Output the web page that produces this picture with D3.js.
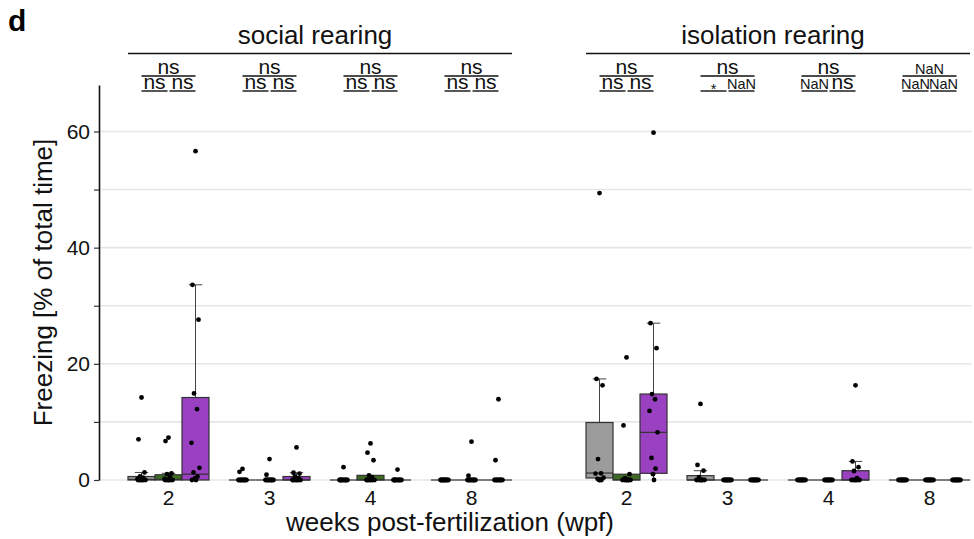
<!DOCTYPE html>
<html>
<head>
<meta charset="utf-8">
<script src="https://cdn.jsdelivr.net/npm/d3@7"></script>
<style>
  html, body { margin: 0; padding: 0; background: #fff; }
  svg { display: block; font-family: "Liberation Sans", Arial, Helvetica, sans-serif; }
</style>
</head>
<body>
<svg id="chart" width="974" height="539"></svg>
<script>
// ---- data -------------------------------------------------------------
const wpf = ["2", "3", "4", "8"];
const rearing = ["social rearing", "isolation rearing"];
const groups = ["g1", "g2", "g3"];
const yTicks = [0, 10, 20, 30, 40, 50, 60];
const yTickLabels = ["0", "", "20", "", "40", "", "60"];

// freezing (% of total time) per fish, [wpf][group]
const socialPoints = [
  [[14.2, 7.0, 1.3, 0.6, 0.4, 0.2, 0, 0, 0, 0, 0, 0],
   [7.3, 6.7, 1.15, 1.0, 0.5, 0.2, 0, 0, 0, 0, 0, 0],
   [56.6, 33.6, 27.6, 14.9, 12.2, 6.4, 2.1, 1.3, 0.6, 0.3, 0, 0]],
  [[1.9, 1.4, 0, 0, 0, 0, 0, 0, 0, 0, 0, 0],
   [3.6, 0.9, 0, 0, 0, 0, 0, 0, 0, 0, 0, 0],
   [5.6, 1.25, 1.1, 0.6, 0.3, 0, 0, 0, 0, 0, 0, 0]],
  [[2.2, 0, 0, 0, 0, 0, 0, 0, 0, 0, 0, 0],
   [6.3, 4.7, 3.4, 0.8, 0.5, 0, 0, 0, 0, 0, 0, 0],
   [1.8, 0, 0, 0, 0, 0, 0, 0, 0, 0, 0, 0]],
  [[0, 0, 0, 0, 0, 0, 0, 0, 0, 0, 0, 0],
   [6.6, 0.75, 0, 0, 0, 0, 0, 0, 0, 0, 0, 0],
   [13.9, 3.4, 0, 0, 0, 0, 0, 0, 0, 0, 0, 0]]
];
const isolationPoints = [
  [[49.4, 17.4, 16.3, 3.6, 1.15, 1.1, 0.4, 0.2, 0, 0, 0],
   [21.1, 9.4, 1.0, 0.3, 0, 0, 0, 0, 0, 0, 0],
   [59.8, 27.0, 22.7, 14.8, 13.9, 11.9, 8.2, 3.8, 1.95, 1.0, 0]],
  [[13.1, 2.6, 1.6, 0.5, 0, 0, 0, 0, 0, 0, 0],
   [0, 0, 0, 0, 0, 0, 0, 0, 0, 0, 0],
   [0, 0, 0, 0, 0, 0, 0, 0, 0, 0, 0]],
  [[0, 0, 0, 0, 0, 0, 0, 0, 0, 0, 0],
   [0, 0, 0, 0, 0, 0, 0, 0, 0, 0, 0],
   [16.3, 3.2, 2.2, 1.55, 0.3, 0, 0, 0, 0, 0, 0]],
  [[0, 0, 0, 0, 0, 0, 0, 0, 0, 0, 0],
   [0, 0, 0, 0, 0, 0, 0, 0, 0, 0, 0],
   [0, 0, 0, 0, 0, 0, 0, 0, 0, 0, 0]]
];

// box summaries [lower whisker, Q1, median, Q3, upper whisker]
const socialBoxes = [
  [[0, 0, 0.1, 0.6, 1.3], [0, 0, 0.1, 0.9, 1.15], [0, 0, 1.0, 14.2, 33.6]],
  [[0, 0, 0, 0, 0], [0, 0, 0, 0, 0], [0, 0, 0, 0.6, 1.25]],
  [[0, 0, 0, 0, 0], [0, 0, 0, 0.8, 0.8], [0, 0, 0, 0, 0]],
  [[0, 0, 0, 0, 0], [0, 0, 0, 0, 0], [0, 0, 0, 0, 0]]
];
const isolationBoxes = [
  [[0, 0.35, 1.2, 9.9, 17.4], [0, 0, 0.05, 1.0, 1.0], [0, 1.15, 8.2, 14.8, 27.0]],
  [[0, 0, 0, 0.75, 1.6], [0, 0, 0, 0, 0], [0, 0, 0, 0, 0]],
  [[0, 0, 0, 0, 0], [0, 0, 0, 0, 0], [0, 0, 0, 1.6, 3.2]],
  [[0, 0, 0, 0, 0], [0, 0, 0, 0, 0], [0, 0, 0, 0, 0]]
];

// pairwise test labels per wpf: [g1 vs g3, g1 vs g2, g2 vs g3]
const socialSig = [["ns", "ns", "ns"], ["ns", "ns", "ns"], ["ns", "ns", "ns"], ["ns", "ns", "ns"]];
const isolationSig = [["ns", "ns", "ns"], ["ns", "*", "NaN"], ["ns", "NaN", "ns"], ["NaN", "NaN", "NaN"]];

// ---- style & layout --------------------------------------------------
const fills = ["#9c9c9c", "#3d6b24", "#9a41c2"];
const font = "'Liberation Sans', Arial, Helvetica, sans-serif";
const panelGap = 4.535;           // slot distance between the two rearing blocks
const plotLeft = 99, plotRight = 972, plotTop = 85, plotBottom = 480;

const svg = d3.select("#chart");

const y = d3.scaleLinear().domain([0, 68]).range([plotBottom, plotTop]);
const x = d3.scaleLinear().domain([0, 3 + panelGap]).range([168.5, 929.5]);
const inner = d3.scaleBand().domain(groups).range([-40.5, 40.5]);
const bw = inner.bandwidth();

const slotOf = (r, i) => (r === 0 ? i : i + panelGap);
const groupX = (r, i, g) => x(slotOf(r, i)) + inner(groups[g]) + bw / 2;

// grid
svg.append("g")
  .selectAll("line")
  .data(yTicks)
  .join("line")
  .attr("x1", plotLeft).attr("x2", plotRight)
  .attr("y1", d => y(d)).attr("y2", d => y(d))
  .attr("stroke", "#e6e6e6").attr("stroke-width", 1.6);

// y axis
const yAxis = d3.axisLeft(y)
  .tickValues(yTicks)
  .tickFormat((d, i) => yTickLabels[i])
  .tickSize(5)
  .tickSizeOuter(0)
  .tickPadding(4);
const yg = svg.append("g").attr("transform", `translate(${plotLeft},0)`).call(yAxis);
yg.select(".domain").attr("stroke", "#111").attr("stroke-width", 1.6);
yg.selectAll(".tick line").attr("stroke", "#333").attr("stroke-width", 1.2);
yg.selectAll(".tick text").attr("font-size", 21).attr("font-family", font).attr("fill", "#111");

// x tick labels
const xTicks = [];
rearing.forEach((r, ri) => wpf.forEach((w, wi) => xTicks.push({ ri, wi, w })));
svg.append("g")
  .selectAll("text")
  .data(xTicks)
  .join("text")
  .attr("x", d => x(slotOf(d.ri, d.wi)))
  .attr("y", 505)
  .attr("text-anchor", "middle")
  .attr("font-size", 21)
  .attr("fill", "#111")
  .text(d => d.w);

// boxes, whiskers and points
const boxData = [socialBoxes, isolationBoxes];
const pointData = [socialPoints, isolationPoints];
const jitter = [0, -3, 3, -1.5, 1.5, -4, 4, -2, 2, -0.5, 0.5, -3.5];

const boxes = svg.append("g");
rearing.forEach((r, ri) => {
  wpf.forEach((w, wi) => {
    groups.forEach((g, gi) => {
      const [lo, q1, med, q3, hi] = boxData[ri][wi][gi];
      const cx = groupX(ri, wi, gi);
      const grp = boxes.append("g");
      // whiskers
      grp.append("line")
        .attr("x1", cx).attr("x2", cx)
        .attr("y1", y(q3)).attr("y2", y(hi))
        .attr("stroke", "#444").attr("stroke-width", 1);
      grp.append("line")
        .attr("x1", cx).attr("x2", cx)
        .attr("y1", y(q1)).attr("y2", y(lo))
        .attr("stroke", "#444").attr("stroke-width", 1);
      if (hi > q3) {
        grp.append("line")
          .attr("x1", cx - bw / 4).attr("x2", cx + bw / 4)
          .attr("y1", y(hi)).attr("y2", y(hi))
          .attr("stroke", "#444").attr("stroke-width", 1);
      }
      // box
      grp.append("rect")
        .attr("x", cx - bw / 2).attr("width", bw)
        .attr("y", y(q3)).attr("height", Math.max(0, y(q1) - y(q3)))
        .attr("fill", fills[gi])
        .attr("stroke", "#333").attr("stroke-width", 1.2);
      grp.append("line")
        .attr("x1", cx - bw / 2).attr("x2", cx + bw / 2)
        .attr("y1", y(med)).attr("y2", y(med))
        .attr("stroke", "#333").attr("stroke-width", 1.2);
      // points
      grp.selectAll("circle")
        .data(pointData[ri][wi][gi])
        .join("circle")
        .attr("cx", (d, k) => cx + jitter[k % jitter.length])
        .attr("cy", d => y(d))
        .attr("r", 2.4)
        .attr("fill", "#000");
    });
  });
});

// rearing headers
const headers = svg.append("g");
rearing.forEach((r, ri) => {
  const x0 = groupX(ri, 0, 0) - bw / 2;
  const x1 = groupX(ri, 3, 2) + bw / 2;
  headers.append("line")
    .attr("x1", x0).attr("x2", x1)
    .attr("y1", 53.5).attr("y2", 53.5)
    .attr("stroke", "#111").attr("stroke-width", 1.6);
  headers.append("text")
    .attr("x", (x0 + x1) / 2 - 5)
    .attr("y", 44)
    .attr("text-anchor", "middle")
    .attr("font-size", 26)
    .attr("fill", "#111")
    .text(r);
});

// significance labels
const sigData = [socialSig, isolationSig];
const sig = svg.append("g");
rearing.forEach((r, ri) => {
  wpf.forEach((w, wi) => {
    const [top, left, right] = sigData[ri][wi];
    const c0 = groupX(ri, wi, 0), c1 = groupX(ri, wi, 1), c2 = groupX(ri, wi, 2);
    const spans = [
      { a: c0, b: c2, yl: 76, yt: 73.5, t: top },
      { a: c0, b: c1 - 1, yl: 91, yt: 88.5, t: left },
      { a: c1 + 1, b: c2, yl: 91, yt: 88.5, t: right }
    ];
    spans.forEach(s => {
      sig.append("line")
        .attr("x1", s.a).attr("x2", s.b)
        .attr("y1", s.yl).attr("y2", s.yl)
        .attr("stroke", "#111").attr("stroke-width", 1.4);
      sig.append("text")
        .attr("x", (s.a + s.b) / 2)
        .attr("y", s.t === "*" ? s.yt + 5 : s.yt)
        .attr("text-anchor", "middle")
        .attr("font-size", s.t === "ns" ? 21 : 14.5)
        .attr("fill", "#111")
        .text(s.t);
    });
  });
});

// axis titles
svg.append("text")
  .attr("x", 450)
  .attr("y", 531)
  .attr("text-anchor", "middle")
  .attr("font-size", 26)
  .attr("fill", "#111")
  .text("weeks post-fertilization (wpf)");

svg.append("text")
  .attr("transform", `translate(52,${(plotTop + plotBottom) / 2}) rotate(-90)`)
  .attr("text-anchor", "middle")
  .attr("font-size", 26)
  .attr("fill", "#111")
  .text("Freezing [% of total time]");

// panel letter
svg.append("text")
  .attr("x", 8).attr("y", 31)
  .attr("font-size", 30)
  .attr("font-weight", "bold")
  .attr("fill", "#000")
  .text("d");
</script>
</body>
</html>
